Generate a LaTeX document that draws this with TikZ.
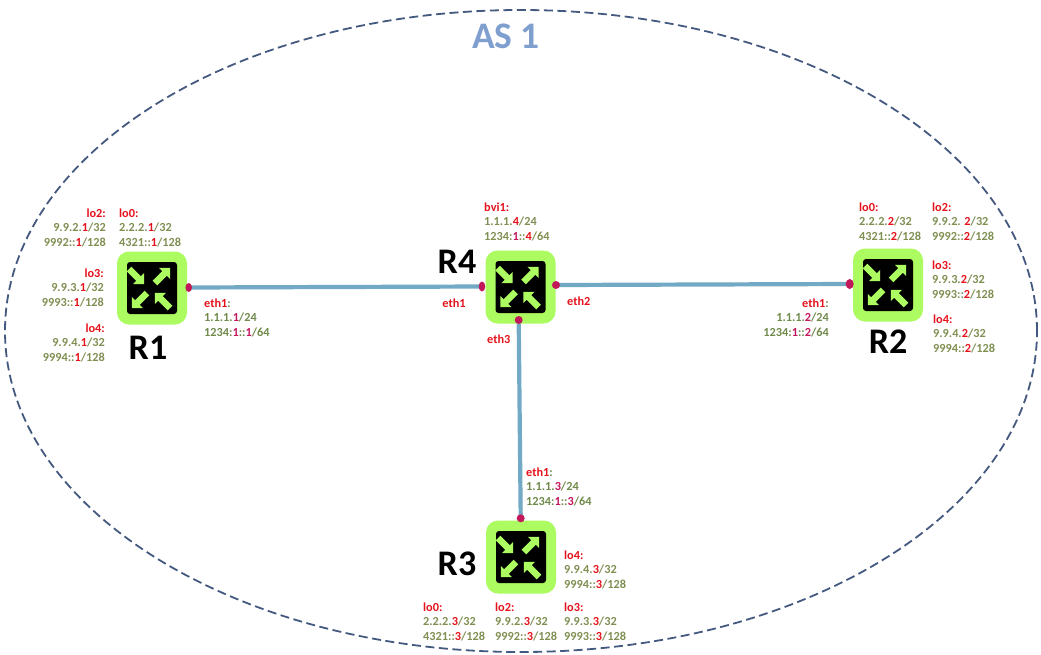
\documentclass[tikz,border=0pt]{standalone}
\usepackage{fontspec}
\setmainfont{Carlito}
\usetikzlibrary{shapes.geometric}
\pgfdeclarelayer{back}
\pgfsetlayers{back,main}
\definecolor{lgreen}{HTML}{ABFB61}
\definecolor{lred}{HTML}{E5121C}
\definecolor{lcrim}{HTML}{C2185B}
\definecolor{lolive}{HTML}{7F8F52}
\definecolor{lgrn}{HTML}{6F8A4A}
\definecolor{llink}{HTML}{72A9C4}
\definecolor{lring}{HTML}{44597F}
\definecolor{lastxt}{HTML}{7F9FCE}
\newcommand\hd[1]{{\color{lred}#1}}
\newcommand\rr[1]{{\color{lred}#1}}
\newcommand\cc[1]{{\color{lcrim}#1}}
\tikzset{
  x=1pt,y=-1pt,
  routerbox/.style={fill=lgreen,rounded corners=12pt,minimum width=70pt,minimum height=73pt,inner sep=0pt},
  routerface/.style={fill=black,rounded corners=3pt,minimum width=50pt,minimum height=52pt,inner sep=0pt},
  addr/.style={font=\bfseries\fontsize{12.3}{14.5}\selectfont,text=lolive,inner sep=0pt},
  addrL/.style={addr,align=left,anchor=north west},
  addrR/.style={addr,align=right,anchor=north east},
  ethtag/.style={font=\bfseries\fontsize{12.3}{14.5}\selectfont,text=lred,inner sep=0pt},
  rname/.style={font=\bfseries\fontsize{36}{36}\selectfont,text=black,inner sep=0pt},
  port/.style={ellipse,fill=lcrim,inner sep=0pt,minimum width=#1},
  link/.style={draw=llink,line width=4.2pt},
  pics/routerarrows/.style={code={
    \foreach \px/\py/\ang in {-23/-19/-45, 3/-5/45, -5/5/225, 18/20/135}{
      \fill[lgreen,shift={(\px,\py)},rotate=\ang]
        (0,-3.2)--(13.5,-3.2)--(13.5,-8)--(21.5,0)--(13.5,8)--(13.5,3.2)--(0,3.2)--cycle;
    }
  }}
}
\begin{document}
\begin{tikzpicture}
\useasboundingbox (0,0) rectangle (1041,654);
\node[ellipse,draw=lring,line width=1.8pt,dash pattern=on 9pt off 4.5pt,minimum width=1032pt,minimum height=642pt,inner sep=0pt] (as) at (521,331) {};
\node[font=\bfseries\fontsize{37.5}{37.5}\selectfont,text=lastxt,inner sep=0pt] (astxt) at (506,36) {AS 1};

\foreach \n/\cx/\cy in {r1/152/288, r4/520.5/287, r2/888/285, r3/521/557}{
  \node[routerbox] (\n) at (\cx,\cy) {};
  \node[routerface] (\n f) at (\cx,\cy) {};
  \pic at (\cx,\cy) {routerarrows};
}

\node[port=6.5pt,minimum height=9pt] (p1) at (188.7,287.5) {};
\node[port=6.5pt,minimum height=10pt] (p4l) at (482,286.5) {};
\node[port=8pt,minimum height=8pt] (p4r) at (556,285) {};
\node[port=8pt,minimum height=8pt] (p4b) at (518.7,320) {};
\node[port=8pt,minimum height=10pt] (p2) at (849.7,284) {};
\node[port=8pt,minimum height=8pt] (p3) at (520.7,518.3) {};
\begin{pgfonlayer}{back}
\path[link] (p1.center) -- (p4l.center);
\path[link] (p4r.center) -- (p2.center);
\path[link] (p4b.center) -- (p3.center);
\end{pgfonlayer}

\node[rname] (n1) at (148,348) {R1};
\node[rname] (n4) at (457,262) {R4};
\node[rname] (n2) at (888,342) {R2};
\node[rname] (n3) at (457,564) {R3};

% R1
\node[addrR] (a1) at (106,208.5) {\hd{lo2:}\\9.9.2.\rr{1}/32\\9992::\rr{1}/128};
\node[addrL] (a2) at (119,208.5) {\hd{lo0:}\\2.2.2.\rr{1}/32\\4321::\rr{1}/128};
\node[addrR] (a3) at (104,268.5) {\hd{lo3:}\\9.9.3.\rr{1}/32\\9993::\rr{1}/128};
\node[addrR] (a4) at (105,323.5) {\hd{lo4:}\\9.9.4.\rr{1}/32\\9994::\rr{1}/128};
\node[addrL,text=lgrn] (a5) at (204,298.5) {\hd{eth1}:\\1.1.1.\cc{1}/24\\1234:\cc{1}::\cc{1}/64};
% R4
\node[addrL] (a6) at (484,202.5) {\hd{bvi1:}\\1.1.1.\rr{4}/24\\1234:\cc{1}::\rr{4}/64};
\node[ethtag] (e1) at (454,303) {eth1};
\node[ethtag,anchor=west] (e2) at (567,301) {eth2};
\node[ethtag,anchor=west] (e3) at (487,339) {eth3};
% R2
\node[addrL] (a7) at (859,202.5) {\hd{lo0:}\\2.2.2.\rr{2}/32\\4321::\rr{2}/128};
\node[addrL] (a8) at (932,202.5) {\hd{lo2:}\\9.9.2. \rr{2}/32\\9992::\rr{2}/128};
\node[addrL] (a9) at (932,260.5) {\hd{lo3:}\\9.9.3.\rr{2}/32\\9993::\rr{2}/128};
\node[addrL] (a10) at (933,314.5) {\hd{lo4:}\\9.9.4.\rr{2}/32\\9994::\rr{2}/128};
\node[addrR,text=lgrn] (a11) at (829,298.5) {\hd{eth1}:\\1.1.1.\cc{2}/24\\1234:\cc{1}::\cc{2}/64};
% R3
\node[addrL,text=lgrn] (a12) at (526,467.5) {\hd{eth1}:\\1.1.1.\cc{3}/24\\1234:\cc{1}::\cc{3}/64};
\node[addrL] (a13) at (564,550.5) {\hd{lo4:}\\9.9.4.\rr{3}/32\\9994::\rr{3}/128};
\node[addrL] (a14) at (423,602.5) {\hd{lo0:}\\2.2.2.\rr{3}/32\\4321::\rr{3}/128};
\node[addrL] (a15) at (495,602.5) {\hd{lo2:}\\9.9.2.\rr{3}/32\\9992::\rr{3}/128};
\node[addrL] (a16) at (564,602.5) {\hd{lo3:}\\9.9.3.\rr{3}/32\\9993::\rr{3}/128};
\end{tikzpicture}
\end{document}
